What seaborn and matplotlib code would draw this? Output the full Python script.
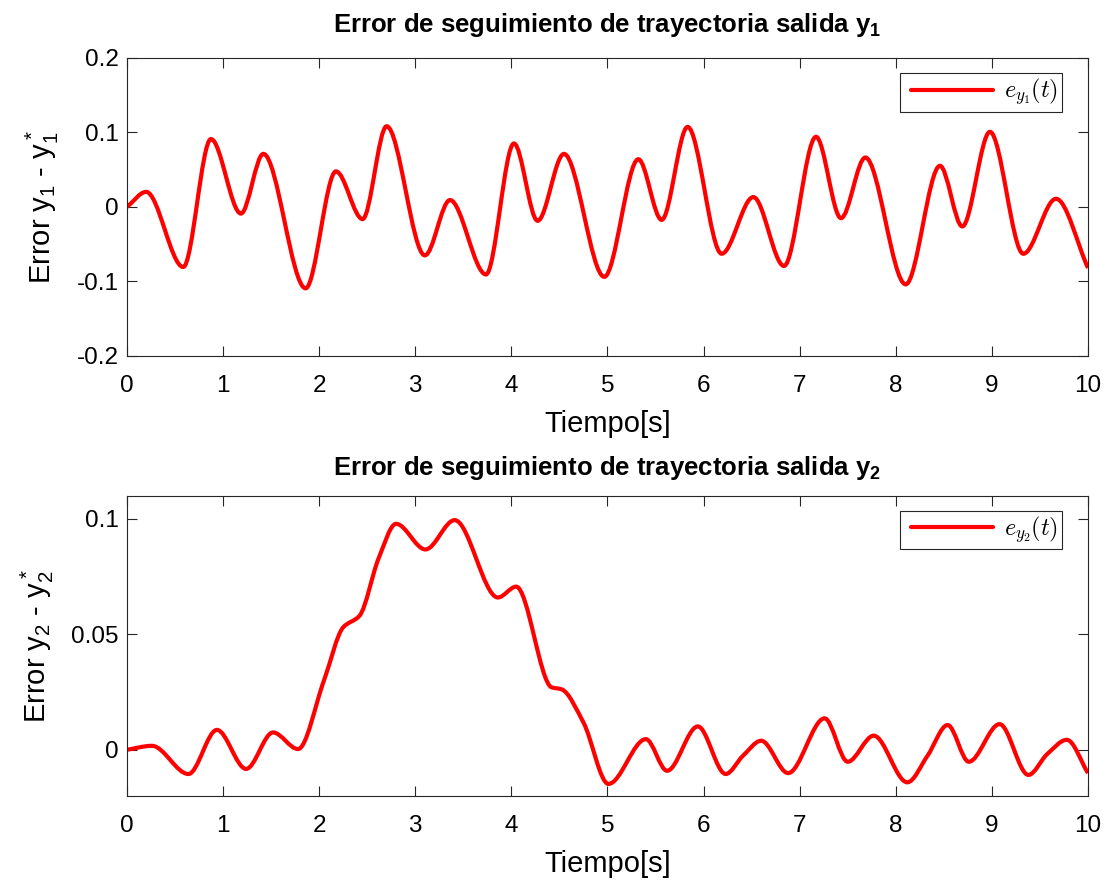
import numpy as np
import matplotlib
matplotlib.use("Agg")
import matplotlib.pyplot as plt
from matplotlib.path import Path
from matplotlib.patches import PathPatch
from matplotlib.lines import Line2D
from matplotlib.legend_handler import HandlerLine2D
from matplotlib.font_manager import FontProperties
import seaborn as sns

# Turning points of the output tracking errors (time [s], error)
t_y1 = [0.0, 0.20, 0.586, 0.874, 1.186, 1.419, 1.859, 2.175, 2.452, 2.702,
        3.10, 3.361, 3.736, 4.027, 4.273, 4.547, 4.967, 5.321, 5.564, 5.834,
        6.188, 6.518, 6.837, 7.17, 7.43, 7.683, 8.103, 8.46, 8.692, 8.98,
        9.327, 9.667, 10.0]
e_y1 = [0.0, 0.0203, -0.0806, 0.0912, -0.0089, 0.0713, -0.1092, 0.0478, -0.0163, 0.1084,
        -0.065, 0.0093, -0.0906, 0.0853, -0.0186, 0.0713, -0.0938, 0.0641, -0.0173, 0.1075,
        -0.0628, 0.0133, -0.0792, 0.0942, -0.015, 0.0664, -0.1039, 0.0553, -0.0261, 0.1009,
        -0.0628, 0.011, -0.0819]

t_y2 = [0.0, 0.26, 0.64, 0.936, 1.24, 1.52, 1.78, 2.05, 2.25, 2.42,
        2.62, 2.80, 3.106, 3.41, 3.86, 4.05, 4.42, 4.52,
        4.75, 5.01, 5.40, 5.62, 5.94, 6.23, 6.41, 6.60, 6.88, 7.26,
        7.50, 7.77, 8.12, 8.33, 8.54, 8.76, 9.08, 9.38, 9.575, 9.78, 10.0]
e_y2 = [0.0, 0.0017, -0.0105, 0.0086, -0.0083, 0.0075, 0.0003, 0.030, 0.053, 0.058,
        0.083, 0.0978, 0.0867, 0.0994, 0.0659, 0.0706, 0.027, 0.0262,
        0.0118, -0.0148, 0.0046, -0.0091, 0.0101, -0.0105, -0.0026, 0.0039, -0.0101, 0.0136,
        -0.0052, 0.0061, -0.0141, -0.0026, 0.0107, -0.0052, 0.0111, -0.0109, -0.0019, 0.0043, -0.0101]

titles = ["Error de seguimiento de trayectoria salida y$_1$",
          "Error de seguimiento de trayectoria salida y$_2$"]
ylabels = ["Error y$_1$ - y$_1^*$", "Error y$_2$ - y$_2^*$"]
legend_labels = [r"$\mathit{e}_{\mathit{y}_{\mathrm{1}}}\mathrm{(}\mathit{t}\mathrm{)}\;$",
                 r"$\mathit{e}_{\mathit{y}_{\mathrm{2}}}\mathrm{(}\mathit{t}\mathrm{)}\;$"]
xlabel = "Tiempo[s]"
xticks = list(range(0, 11))
yticks_1 = [-0.2, -0.1, 0.0, 0.1, 0.2]
yticklabels_1 = ["-0.2", "-0.1", "0", "0.1", "0.2"]
yticks_2 = [0.0, 0.05, 0.1]
yticklabels_2 = ["0", "0.05", "0.1"]

sns.set_theme(style="ticks")
plt.rcParams.update({
    "font.family": ["Liberation Sans", "DejaVu Sans"],
    "mathtext.default": "regular",
    "axes.unicode_minus": False,
    "text.color": "black",
    "axes.labelcolor": "black",
    "axes.edgecolor": "0.15",
    "axes.linewidth": 0.8,
    "xtick.color": "0.15",
    "ytick.color": "0.15",
    "xtick.labelcolor": "black",
    "ytick.labelcolor": "black",
})


def hermite_slopes(t, y):
    """Shape-preserving slopes (flat at turning points)."""
    t = np.asarray(t, float)
    y = np.asarray(y, float)
    h = np.diff(t)
    d = np.diff(y) / h
    m = np.zeros_like(y)
    for i in range(1, len(y) - 1):
        if d[i - 1] * d[i] > 0:
            w1 = 2 * h[i] + h[i - 1]
            w2 = h[i] + 2 * h[i - 1]
            m[i] = (w1 + w2) / (w1 / d[i - 1] + w2 / d[i])
    m[0] = d[0]
    m[-1] = d[-1]
    return m


def smooth_path(t, y):
    m = hermite_slopes(t, y)
    verts = [(t[0], y[0])]
    codes = [Path.MOVETO]
    for i in range(len(t) - 1):
        h = t[i + 1] - t[i]
        verts += [(t[i] + h / 3, y[i] + m[i] * h / 3),
                  (t[i + 1] - h / 3, y[i + 1] - m[i + 1] * h / 3),
                  (t[i + 1], y[i + 1])]
        codes += [Path.CURVE4] * 3
    return Path(verts, codes)


fig = plt.figure(figsize=(11.05, 8.8), dpi=100)
ax1 = fig.add_axes([0.1149, 0.5955, 0.8697, 0.3386])
ax2 = fig.add_axes([0.1149, 0.0955, 0.8697, 0.3413])

panels = [
    (ax1, t_y1, e_y1, (-0.2, 0.2), yticks_1, yticklabels_1, 19),
    (ax2, t_y2, e_y2, (-0.02, 0.11), yticks_2, yticklabels_2, 15),
]

for k, (ax, t, e, ylim, yt, ytl, tpad) in enumerate(panels):
    patch = PathPatch(smooth_path(t, e), fill=False, edgecolor="#ff0000",
                      lw=3.0, capstyle="butt", joinstyle="round")
    ax.add_patch(patch)
    ax.set_xlim(0, 10)
    ax.set_ylim(*ylim)
    ax.set_xticks(xticks)
    ax.set_xticklabels([str(v) for v in xticks])
    ax.set_yticks(yt)
    ax.set_yticklabels(ytl)
    ax.tick_params(direction="in", length=7, width=0.8, labelsize=17.5,
                   top=True, right=True)
    ax.tick_params(axis="x", pad=14)
    ax.tick_params(axis="y", pad=6)
    for s in ax.spines.values():
        s.set_visible(True)
    ax.set_xlabel(xlabel, fontsize=21, labelpad=9)
    ax.set_ylabel(ylabels[k], fontsize=21, labelpad=11)
    ax.set_title(titles[k], fontsize=18.5, fontweight="bold", pad=tpad)
    handle = Line2D([], [], color="#ff0000", lw=3.0)
    leg = ax.legend([handle], [legend_labels[k]], loc="upper right",
                    bbox_to_anchor=(0.973, 0.95), borderaxespad=0,
                    prop=FontProperties(size=17.5, math_fontfamily="cm"),
                    fancybox=False, framealpha=1, edgecolor="0.15",
                    handlelength=3.7, handletextpad=0.45, borderpad=0.15,
                    handler_map={Line2D: HandlerLine2D(xpad=0.32)})
    leg.get_frame().set_linewidth(0.8)

fig.savefig("out.png", dpi=100, facecolor="white")
